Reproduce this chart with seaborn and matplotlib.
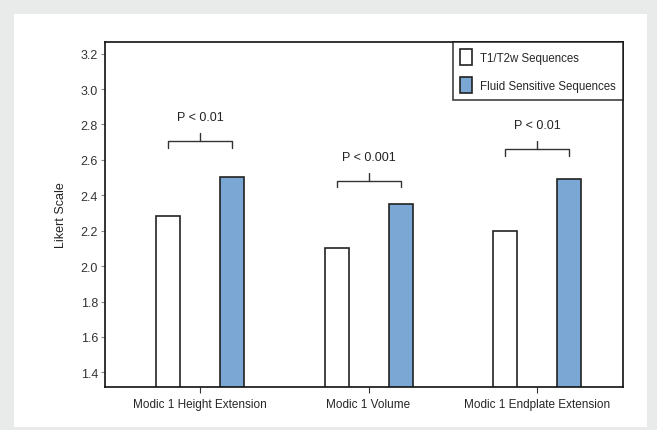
import pandas as pd
import numpy as np
import matplotlib
matplotlib.use("Agg")
import matplotlib.pyplot as plt
from matplotlib.patches import Rectangle
import seaborn as sns

# values
categories = ["Modic 1 Height Extension", "Modic 1 Volume", "Modic 1 Endplate Extension"]
sequences = ["T1/T2w Sequences", "Fluid Sensitive Sequences"]
t1t2_values = [2.285, 2.102, 2.200]
fluid_values = [2.505, 2.351, 2.492]
p_labels = ["P < 0.01", "P < 0.001", "P < 0.01"]
bracket_levels = [2.708, 2.483, 2.662]
y_ticks = [1.4, 1.6, 1.8, 2.0, 2.2, 2.4, 2.6, 2.8, 3.0, 3.2]

df = pd.DataFrame({
    "category": categories * 2,
    "sequence": [sequences[0]] * 3 + [sequences[1]] * 3,
    "value": t1t2_values + fluid_values,
})

sns.set_style("white")
plt.rcParams["font.family"] = ["Liberation Sans", "DejaVu Sans"]

fig = plt.figure(figsize=(6.57, 4.31), dpi=100)
fig.patch.set_facecolor("#e9ebeb")
# white inner panel
fig.add_artist(Rectangle((14 / 657, 3 / 431), 633 / 657, 413 / 431,
                         transform=fig.transFigure, facecolor="white",
                         edgecolor="none", zorder=0))

ax = fig.add_axes([105 / 657, 43 / 431, 518 / 657, 345 / 431])
ax.set_facecolor("white")

sns.barplot(data=df, x="category", y="value", hue="sequence",
            palette=["white", "#7ba7d5"], saturation=1, edgecolor="#222222",
            linewidth=1.2, width=0.76, gap=0.626, errorbar=None, ax=ax)

ax.set_xlim(-0.564, 2.51)
ax.set_ylim(1.317, 3.266)
ax.set_yticks(y_ticks)
ax.set_yticklabels([f"{t:.1f}" for t in y_ticks], fontsize=9, color="#333333")
ax.tick_params(axis="y", left=True, direction="out", length=3, width=0.8,
               color="#888888", pad=2)
ax.tick_params(axis="x", bottom=True, direction="out", length=4, width=0.8,
               color="#333333", labelsize=8.5, pad=4)
ax.set_xlabel("")
ax.set_ylabel("Likert Scale", fontsize=9, color="#222222", labelpad=10)
for s in ax.spines.values():
    s.set_visible(True)
    s.set_color("#111111")
    s.set_linewidth(1.2)

# significance brackets, anchored on the drawn bars
n = len(categories)
bars = ax.patches[:2 * n]
for i in range(n):
    b1, b2 = bars[i], bars[n + i]
    x1 = b1.get_x() + b1.get_width() / 2
    x2 = b2.get_x() + b2.get_width() / 2
    y = bracket_levels[i]
    ax.plot([x1, x1, x2, x2], [y - 0.038, y, y, y - 0.038], color="#333333", lw=1.0)
    xm = (x1 + x2) / 2
    ax.plot([xm, xm], [y, y + 0.045], color="#333333", lw=1.0)
    ax.text(xm, y + 0.10, p_labels[i], ha="center", va="bottom", fontsize=9,
            color="#222222")

leg = ax.legend(loc="upper right", bbox_to_anchor=(1.0, 1.0), borderaxespad=0,
                fancybox=False, frameon=True, edgecolor="#111111", fontsize=8.3,
                handlelength=1.1, handleheight=1.8, handletextpad=0.7,
                labelspacing=1.0, borderpad=0.6, title=None)
leg.get_frame().set_linewidth(1.2)

fig.savefig("out.png", dpi=100, facecolor=fig.get_facecolor())
